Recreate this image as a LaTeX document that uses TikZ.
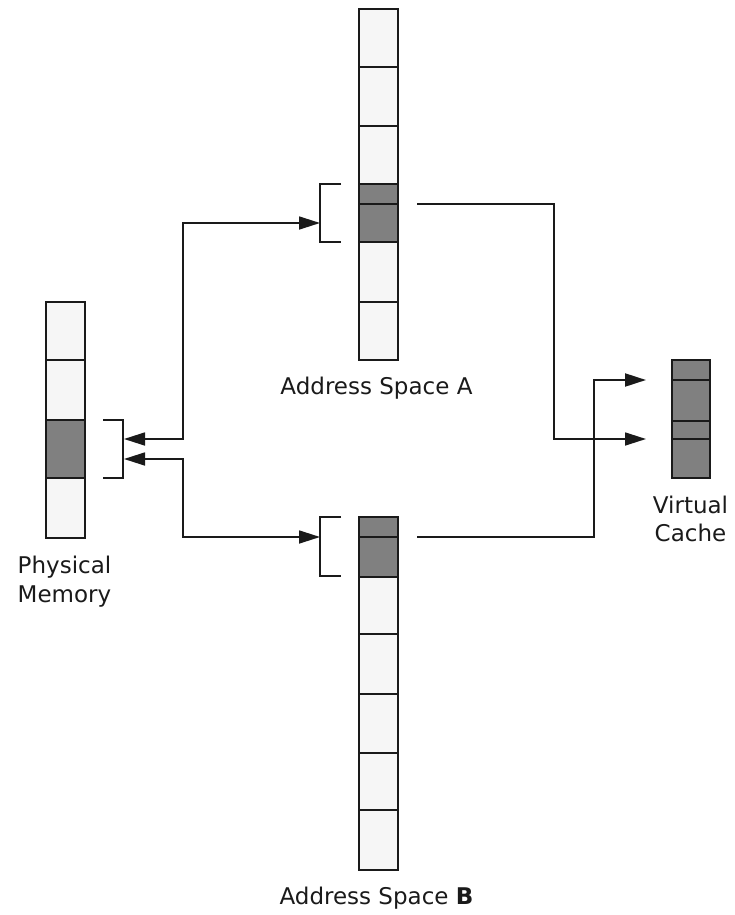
\documentclass[tikz,border=0pt]{standalone}
\usepackage{fontspec}
\setmainfont{DejaVu Sans}
\usetikzlibrary{arrows.meta}
\definecolor{cellL}{HTML}{F6F6F6}
\definecolor{cellD}{HTML}{808080}
\definecolor{ink}{HTML}{1A1A1A}
\begin{document}
\begin{tikzpicture}[x=1pt,y=-1pt,
  lcell/.style={fill=cellL,draw=ink,line width=1.6pt},
  dcell/.style={fill=cellD,draw=ink,line width=1.6pt},
  brk/.style={draw=ink,line width=1.6pt},
  conn/.style={draw=ink,line width=1.7pt},
  tip/.style={-{Triangle[length=21pt,width=13pt]}},
  bitip/.style={{Triangle[length=21pt,width=13pt]}-{Triangle[length=21pt,width=13pt]}},
  lbl/.style={font=\fontsize{23}{27}\selectfont,text=ink,anchor=base,inner sep=0pt}]
\useasboundingbox (0,0) rectangle (734,915);
% Address Space A
\draw[lcell] (359,9) rectangle (398,67);
\draw[lcell] (359,67) rectangle (398,126);
\draw[lcell] (359,126) rectangle (398,184);
\draw[dcell] (359,184) rectangle (398,204);
\draw[dcell] (359,204) rectangle (398,242);
\draw[lcell] (359,242) rectangle (398,302);
\draw[lcell] (359,302) rectangle (398,360);
\draw[ink,line width=2.2pt] (359,126) -- (398,126);
% Physical Memory
\draw[lcell] (46,302) rectangle (85,360);
\draw[lcell] (46,360) rectangle (85,420);
\draw[dcell] (46,420) rectangle (85,478);
\draw[lcell] (46,478) rectangle (85,538);
\draw[ink,line width=2.4pt] (46,538) -- (85,538);
% Address Space B
\draw[dcell] (359,517) rectangle (398,537);
\draw[dcell] (359,537) rectangle (398,577);
\draw[lcell] (359,577) rectangle (398,634);
\draw[lcell] (359,634) rectangle (398,694);
\draw[lcell] (359,694) rectangle (398,753);
\draw[lcell] (359,753) rectangle (398,810);
\draw[lcell] (359,810) rectangle (398,870);
\draw[ink,line width=2.4pt] (359,537) -- (398,537);
% Virtual Cache
\draw[dcell] (672,360) rectangle (710,380);
\draw[dcell] (672,380) rectangle (710,421);
\draw[dcell] (672,421) rectangle (710,439);
\draw[dcell] (672,439) rectangle (710,478);
% Brackets
\draw[brk] (341,184) -- (320,184) -- (320,242) -- (341,242);
\draw[brk] (103,420) -- (123,420) -- (123,478) -- (103,478);
\draw[brk] (341,517) -- (320,517) -- (320,576) -- (341,576);
% connector end points
\coordinate (pmU) at (124,439);
\coordinate (pmL) at (124,459);
\coordinate (aIn) at (320,223);
\coordinate (bIn) at (320,537);
\coordinate (aOut) at (417,204);
\coordinate (bOut) at (417,537);
\coordinate (vcU) at (646,380);
\coordinate (vcL) at (646,439);
\coordinate (jPM) at (183,0);
\coordinate (jA) at (554,0);
\coordinate (jB) at (594,0);
% connectors
\draw[conn,bitip] (pmU) -- (pmU -| jPM) |- (aIn);
\draw[conn,bitip] (pmL) -- (pmL -| jPM) |- (bIn);
\draw[conn,tip] (aOut) -- (aOut -| jA) |- (vcL);
\draw[conn,tip,line width=2.1pt] (bOut) -- (bOut -| jB) |- (vcU);
% labels
\node[lbl] (labA) at (376.5,394) {Address Space A};
\node[lbl] (labB) at (376.5,904) {Address Space {\bfseries B}};
\node[lbl] (labPM1) at (64.5,573) {Physical};
\node[lbl] (labPM2) at (64.5,602) {Memory};
\node[lbl] (labVC1) at (690.5,513) {Virtual};
\node[lbl] (labVC2) at (690.5,541) {Cache};
\end{tikzpicture}
\end{document}
